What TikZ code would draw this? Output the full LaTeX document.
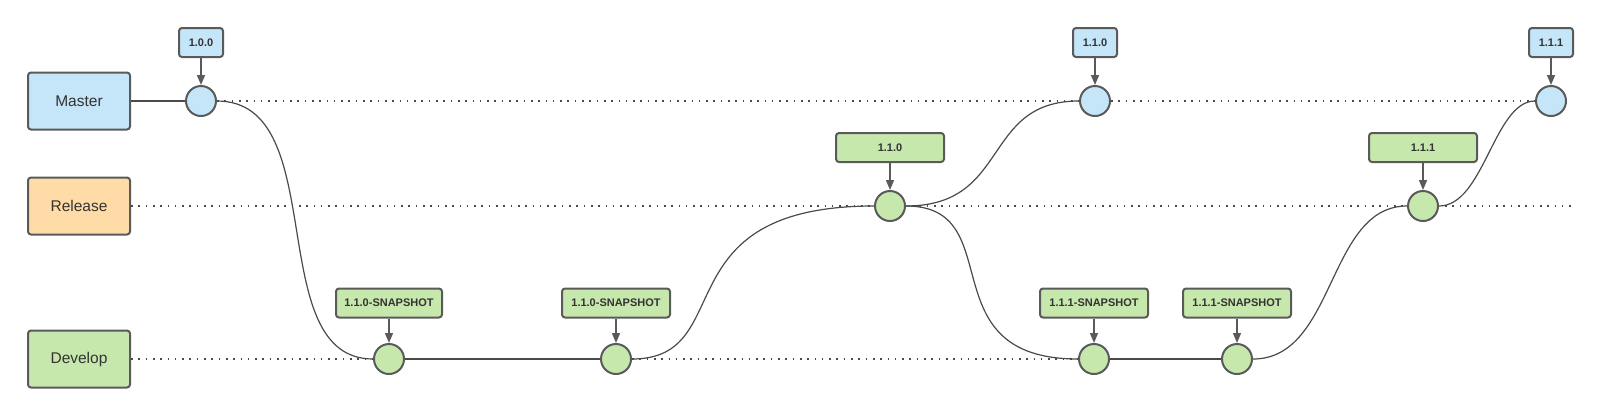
\documentclass[tikz,border=0pt]{standalone}
\usepackage{fontspec}
\setmainfont{Liberation Sans}
\usetikzlibrary{arrows.meta,backgrounds}
\definecolor{lblue}{HTML}{C5E5F8}
\definecolor{lorange}{HTML}{FFDBA8}
\definecolor{lgreen}{HTML}{C7E8AC}
\definecolor{edge}{HTML}{5A5A5A}
\definecolor{wire}{HTML}{4A4A4A}
\definecolor{ink}{HTML}{333333}
\begin{document}
\begin{tikzpicture}[x=1pt,y=-1pt,
  branch/.style={draw=edge, line width=2pt, rounded corners=3pt, minimum width=102pt, minimum height=57pt, inner sep=0pt, font=\fontsize{15.5}{18}\selectfont, text=ink},
  commit/.style={circle, draw=edge, line width=2pt, minimum size=30pt, inner sep=0pt},
  tag/.style={draw=edge, line width=2pt, rounded corners=3pt, minimum height=29pt, inner sep=0pt, font=\bfseries\fontsize{11}{13}\selectfont, text=ink},
  pointer/.style={draw=edge, line width=1.5pt, -{Triangle[length=10pt,width=8pt]}},
  flow/.style={draw=wire, line width=1.2pt},
  trace/.style={draw=wire, line width=1.3pt, dash pattern=on 1.6pt off 5.7pt},
]
\useasboundingbox (0,0) rectangle (1600,416);

% branch boxes
\node[branch, fill=lblue]   (master)  at (79,101) {Master};
\node[branch, fill=lorange] (release) at (79,206) {Release};
\node[branch, fill=lgreen]  (develop) at (79,359) {Develop};

% commits
\node[commit, fill=lblue]  (m1) at (201,101) {};
\node[commit, fill=lblue]  (m2) at (1095,101) {};
\node[commit, fill=lblue]  (m3) at (1551,101) {};
\node[commit, fill=lgreen] (r1) at (890,206) {};
\node[commit, fill=lgreen] (r2) at (1423,206) {};
\node[commit, fill=lgreen] (d1) at (389,359) {};
\node[commit, fill=lgreen] (d2) at (616,359) {};
\node[commit, fill=lgreen] (d3) at (1094,359) {};
\node[commit, fill=lgreen] (d4) at (1237,359) {};

% tags
\node[tag, fill=lblue, minimum width=44pt]  (t1) at (201,42.5) {1.0.0};
\node[tag, fill=lblue, minimum width=44pt]  (t2) at (1095,42.5) {1.1.0};
\node[tag, fill=lblue, minimum width=44pt]  (t3) at (1551,42.5) {1.1.1};
\node[tag, fill=lgreen, minimum width=108pt] (t4) at (890,147.5) {1.1.0};
\node[tag, fill=lgreen, minimum width=108pt] (t5) at (1423,147.5) {1.1.1};
\node[tag, fill=lgreen, minimum width=106pt] (s1) at (389,303) {1.1.0-SNAPSHOT};
\node[tag, fill=lgreen, minimum width=108pt] (s2) at (616,303) {1.1.0-SNAPSHOT};
\node[tag, fill=lgreen, minimum width=108pt] (s3) at (1094,303) {1.1.1-SNAPSHOT};
\node[tag, fill=lgreen, minimum width=108pt] (s4) at (1237,303) {1.1.1-SNAPSHOT};

\coordinate (rend) at (1572,206);

% tag pointers
\draw[pointer] (t1) -- (m1);
\draw[pointer] (t2) -- (m2);
\draw[pointer] (t3) -- (m3);
\draw[pointer] (t4) -- (r1);
\draw[pointer] (t5) -- (r2);
\draw[pointer] (s1) -- (d1);
\draw[pointer] (s2) -- (d2);
\draw[pointer] (s3) -- (d3);
\draw[pointer] (s4) -- (d4);

\begin{scope}[on background layer]
  % lane lines
  \draw[flow]  (master.east) -- (m1.west);
  \draw[trace] (m1.east) -- (m2.west);
  \draw[trace] (m2.east) -- (m3.west);
  \draw[trace] (release.east) -- (rend);
  \draw[trace] (develop.east) -- (d1.west);
  \draw[flow]  (d1.east) -- (d2.west);
  \draw[trace] (d2.east) -- (d3.west);
  \draw[flow]  (d3.east) -- (d4.west);
  % merges and branches
  \draw[flow] (m1.east) .. controls +(116,0) and +(-112,0) .. (d1.west);
  \draw[flow] (d2.east) .. controls +(108,0) and +(-215,0) .. (r1.west);
  \draw[flow] (r1.east) .. controls +(105,0) and +(-98,0) .. (m2.west);
  \draw[flow] (r1.east) .. controls +(105,0) and +(-152,0) .. (d3.west);
  \draw[flow] (d4.east) .. controls +(83,0) and +(-80,0) .. (r2.west);
  \draw[flow] (r2.east) .. controls +(45,0) and +(-41,0) .. (m3.west);
\end{scope}
\end{tikzpicture}
\end{document}
